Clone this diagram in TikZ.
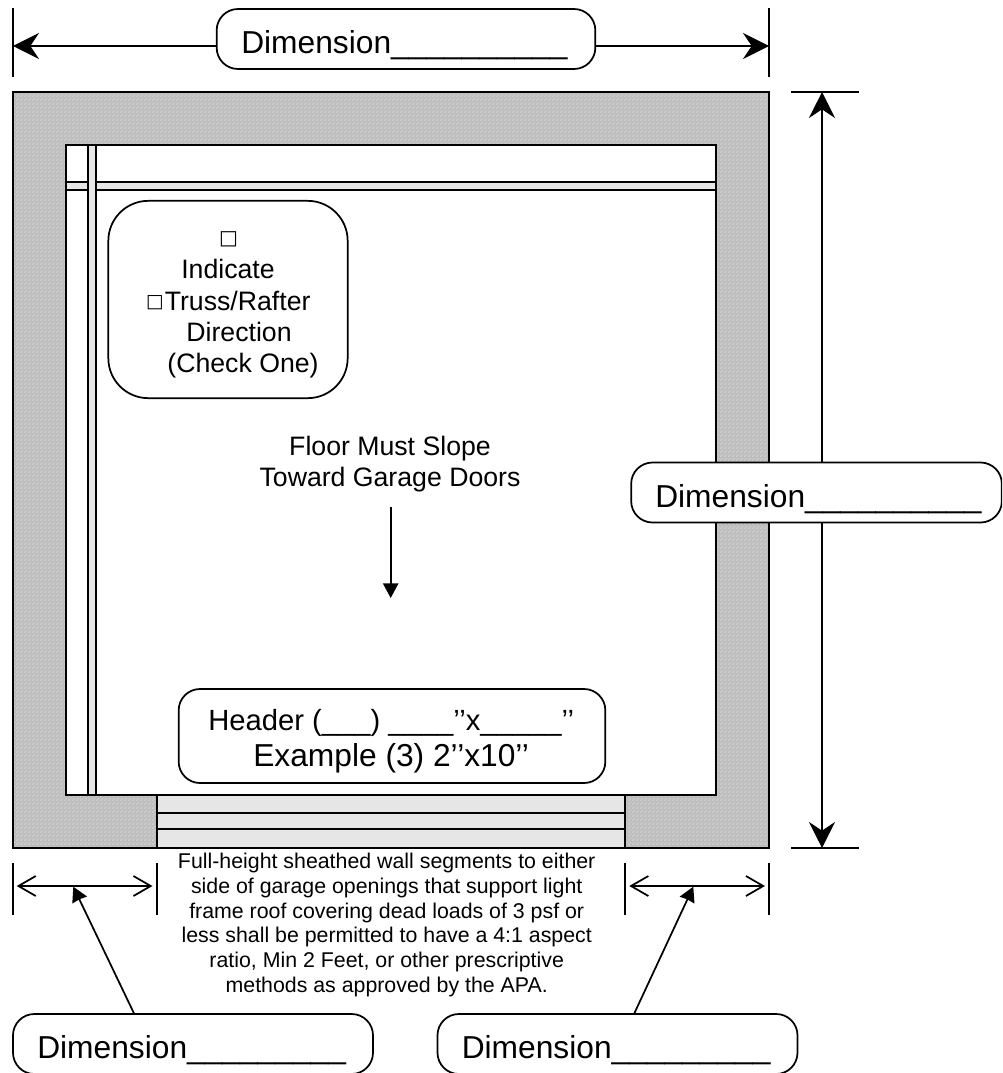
\documentclass[tikz,border=0pt]{standalone}
\usepackage{fontspec}
\setmainfont{Liberation Sans}
\newfontfamily\symfont{DejaVu Sans}
\usetikzlibrary{arrows.meta,patterns}
\definecolor{wallgray}{HTML}{BCBCBC}
\definecolor{walllight}{HTML}{CFCFCF}
\definecolor{stripgray}{HTML}{E6E6E6}
\pgfdeclarepatternformonly{wallcheck}{\pgfqpoint{0pt}{0pt}}{\pgfqpoint{3pt}{3pt}}{\pgfqpoint{3pt}{3pt}}{%
  \pgfpathrectangle{\pgfqpoint{0pt}{0pt}}{\pgfqpoint{1.5pt}{1.5pt}}%
  \pgfpathrectangle{\pgfqpoint{1.5pt}{1.5pt}}{\pgfqpoint{1.5pt}{1.5pt}}%
  \pgfusepath{fill}}
\catcode`\_=12
\tikzset{
  wall/.style={draw=black,line width=1.7pt,preaction={fill=wallgray},pattern=wallcheck,pattern color=walllight},
  floorarea/.style={draw=black,line width=1.7pt,fill=white},
  strip/.style={draw=black,line width=1.1pt,fill=stripgray},
  doorline/.style={line width=1.3pt},
  tick/.style={line width=1.4pt},
  dimline/.style={line width=1.3pt},
  solidtip/.style={-{Stealth[length=19.5pt,width=19.5pt,inset=6.5pt]}},
  solidboth/.style={{Stealth[length=19.5pt,width=19.5pt,inset=6.5pt]}-{Stealth[length=19.5pt,width=19.5pt,inset=6.5pt]}},
  smalltip/.style={-{Stealth[length=11pt,width=11.5pt,inset=0pt]}},
  pointer/.style={-{Stealth[length=11pt,width=12pt,inset=0.5pt]}},
  barb/.style={-{Straight Barb[length=13pt,width=15pt]}},
  roundbox/.style={draw=black,line width=1.3pt,fill=white,rounded corners=16pt,inner sep=0pt},
  dimtext/.style={font=\fontsize{23.8}{28}\selectfont,inner sep=0pt,anchor=base west},
  headtext/.style={font=\fontsize{21.9}{26}\selectfont,inner sep=0pt,anchor=base west},
  midtext/.style={font=\fontsize{20}{23.25}\selectfont,align=center,inner sep=0pt},
  smalltext/.style={font=\fontsize{16}{18.5}\selectfont,align=center,inner sep=0pt}
}
\begin{document}
\begin{tikzpicture}[x=0.75pt,y=-0.75pt]
\useasboundingbox (0,0) rectangle (1002,1073);
\clip (0,0) rectangle (1002,1073);
% walls
\path[wall] (13,92) rectangle (769,848);
\path[floorarea] (66,145) rectangle (716,795);
% door
\path[draw=none,fill=stripgray] (157,795) rectangle (625,848);
\draw[doorline] (157,795) -- (625,795);
\draw[doorline] (157,813) -- (625,813);
\draw[doorline] (157,829) -- (625,829);
\draw[doorline] (157,795) -- (157,848);
\draw[doorline] (625,795) -- (625,848);
\draw[line width=1.7pt] (13,848) -- (769,848);
% strips
\path[strip] (66,182) rectangle (716,190);
\path[strip] (88,145) rectangle (96,795);
% top dimension
\coordinate (tl) at (13,46);
\coordinate (tr) at (769,46);
\draw[tick] (13,8) -- (13,77);
\draw[tick] (769,8) -- (769,77);
\node[roundbox,minimum width=284pt,minimum height=45pt] (topbox) at (406,39) {};
\draw[dimline,solidtip] (topbox.west |- tl) -- (tl);
\draw[dimline,solidtip] (topbox.east |- tr) -- (tr);
\node[dimtext] (toptext) at (241,54) {Dimension__________};
% right dimension
\coordinate (rt) at (822,92);
\coordinate (rb) at (822,848);
\draw[tick] (791,92) -- (859,92);
\draw[tick] (791,848) -- (859,848);
\draw[dimline,solidboth] (rt) -- (rb);
\node[roundbox,minimum width=278pt,minimum height=45pt] (rightbox) at (816.5,492.5) {};
\node[dimtext] (righttext) at (655,507) {Dimension__________};
% check box
\node[roundbox,rounded corners=30pt,minimum width=179.5pt,minimum height=148pt] (checkbox) at (228,299.5) {};
\node[inner sep=0pt,font=\fontsize{15}{17}\symfont] (chk1) at (228.5,239.5) {□};
\node[midtext,anchor=base] (l1) at (228,278) {Indicate};
\node[inner sep=0pt,font=\fontsize{14}{16}\symfont] (l2) at (155,302.5) {□};
\node[midtext,anchor=base west] (l2b) at (164.5,310) {Truss/Rafter};
\node[midtext,anchor=base] (l3) at (239,341) {Direction};
\node[midtext,anchor=base] (l4) at (243,372) {(Check One)};
% slope
\node[midtext,anchor=base] (slope1) at (390,455) {Floor Must Slope};
\node[midtext,anchor=base] (slope2) at (390,486) {Toward Garage Doors};
\coordinate (s1) at (390.7,507);
\coordinate (s2) at (390.7,598);
\draw[dimline,smalltip] (s1) -- (s2);
% header
\node[roundbox,minimum width=320pt,minimum height=70.5pt] (headerbox) at (392,736) {};
\node[headtext] (h1) at (208,730) {Header (___) ____’’x_____’’};
\node[dimtext] (h2) at (253,766) {Example (3) 2’’x10’’};
% note
\node[smalltext,anchor=north] (note) at (386.7,853) {Full-height sheathed wall segments to either\\side of garage openings that support light\\frame roof covering dead loads of 3 psf or\\less shall be permitted to have a 4:1 aspect\\ratio, Min 2 Feet, or other prescriptive\\methods as approved by the APA.};
% bottom dimensions
\draw[tick] (13,863) -- (13,915);
\draw[tick] (157,863) -- (157,915);
\draw[tick] (625,863) -- (625,915);
\draw[tick] (769,863) -- (769,915);
\coordinate (a1) at (16.7,886);
\coordinate (a2) at (152.5,886);
\coordinate (a3) at (629.3,886);
\coordinate (a4) at (765,886);
\draw[dimline,barb] (85,886) -- (a1);
\draw[dimline,barb] (85,886) -- (a2);
\draw[dimline,barb] (697,886) -- (a3);
\draw[dimline,barb] (697,886) -- (a4);
\coordinate (p1) at (73.3,886.7);
\coordinate (p2) at (693.3,886.7);
\node[roundbox,minimum width=270pt,minimum height=45pt] (lb) at (193,1044) {};
\node[roundbox,minimum width=270pt,minimum height=45pt] (rb2) at (617.5,1044) {};
\coordinate (q1) at (134.3,1014);
\coordinate (q2) at (634,1014);
\draw[dimline,pointer] (q1) -- (p1);
\draw[dimline,pointer] (q2) -- (p2);
\node[dimtext] (bt1) at (37,1058) {Dimension_________};
\node[dimtext] (bt2) at (461.5,1058) {Dimension_________};
\end{tikzpicture}
\end{document}
